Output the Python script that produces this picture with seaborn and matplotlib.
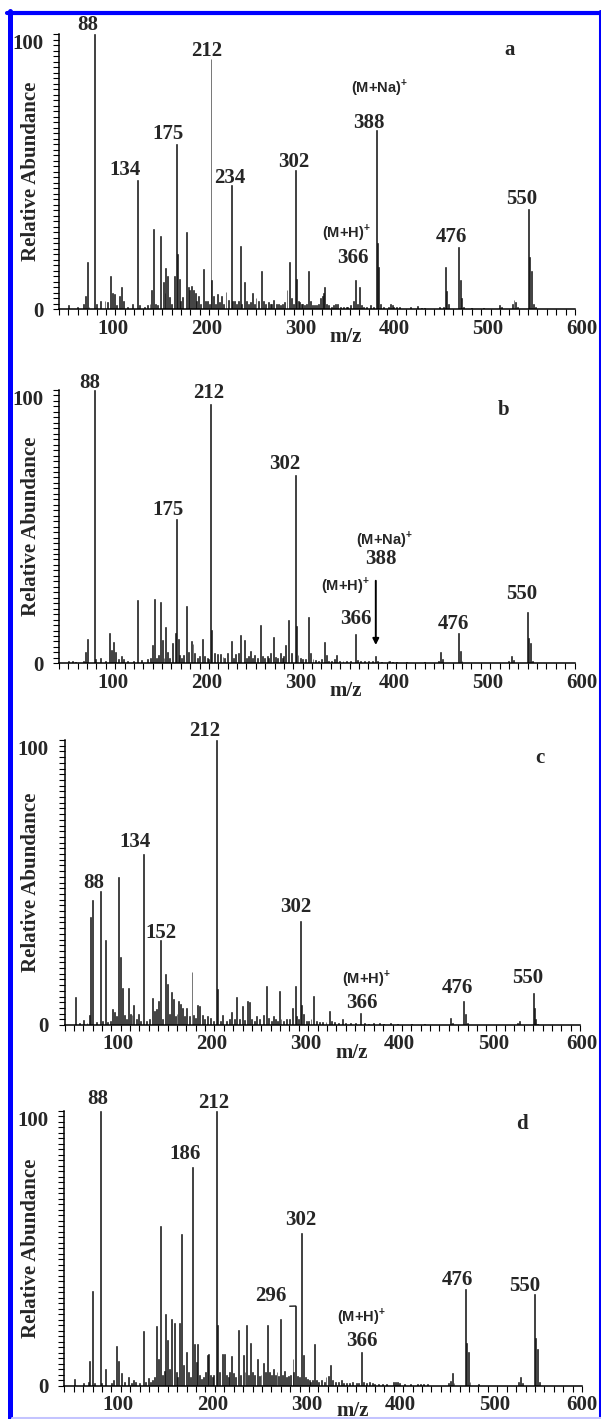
import numpy as np
import pandas as pd
import matplotlib.pyplot as plt
import matplotlib.transforms as mtransforms
from matplotlib.lines import Line2D
from matplotlib.ticker import MultipleLocator, FixedLocator
import seaborn as sns

# ---- spectra (m/z, relative abundance) ----
mz_a = [60, 70, 76, 78, 80, 82, 88, 90, 94, 99, 102, 105, 107, 109, 111, 114, 117, 119, 123, 128,
        134, 136, 141, 144, 147, 149, 151, 153, 155, 158, 161, 163, 164, 166, 168, 170, 173, 175, 176, 178,
        180, 182, 186, 188, 189, 191, 193, 195, 197, 199, 201, 204, 206, 208, 210, 212, 213, 215, 217, 219,
        221, 223, 225, 228, 231, 234, 235, 237, 239, 241, 243, 245, 248, 250, 252, 254, 256, 258, 260, 263,
        266, 268, 270, 273, 275, 277, 279, 282, 284, 286, 288, 290, 293, 296, 298, 300, 302, 303, 305, 306,
        308, 310, 312, 314, 316, 318, 320, 322, 324, 327, 329, 331, 332, 333, 335, 337, 340, 343, 345, 347,
        350, 353, 356, 358, 361, 364, 366, 368, 370, 372, 375, 378, 382, 385, 388, 389, 391, 393, 396, 401,
        403, 405, 407, 410, 413, 425, 432, 436, 440, 456, 460, 462, 463, 465, 476, 478, 479, 481, 490, 502,
        520, 522, 533, 535, 537, 539, 550, 552, 554, 556, 558]
ab_a = [1.5, 1.0, 2, 5, 17, 1, 100, 2, 3, 3, 2.5, 12, 6, 5.5, 1.5, 5, 8, 3, 1, 2,
        47, 1.5, 1, 1.5, 2, 7, 29, 2, 1.5, 26.5, 10, 6, 15, 12, 4.5, 2, 12, 60, 20, 11,
        3, 4.5, 28, 8, 7, 8.5, 7, 6, 3, 5, 2, 14.5, 3, 3, 2, 91, 10.5, 5, 2, 5.5,
        2.5, 5, 2, 6.3, 3.5, 45, 3, 3, 2, 3, 23, 2, 10, 3, 2, 2.5, 6, 2, 4, 3,
        14, 3, 2, 2.5, 2, 2, 3.5, 2, 2, 1.5, 2, 2.5, 7, 17, 4, 2, 50.5, 11, 3, 2.5,
        2, 2, 1.5, 2, 14, 3, 1.5, 1.5, 1.5, 2, 4, 5, 6, 8, 2, 1.5, 1, 1.5, 2, 2,
        1, 1, 1, 1, 1.5, 3, 10.5, 2, 8, 1.5, 1, 1, 1.5, 1, 65, 24, 15.5, 2, 1, 1,
        1.8, 1.5, 1, 0.8, 0.8, 0.8, 1.2, 0.6, 0.6, 0.8, 1, 15.5, 6.5, 2, 22.7, 10.5, 4, 1, 0.5, 0.5,
        1.5, 0.8, 2, 3.5, 2.5, 1, 36.5, 19, 14, 2, 0.8]

mz_b = [60, 64, 68, 76, 78, 80, 88, 89, 94, 100, 104, 106, 108, 110, 113, 117, 119, 123, 129, 134, 138,
        144, 148, 150, 152, 154, 156, 158, 160, 162, 164, 166, 168, 171, 174, 175, 177, 179, 181, 183, 186,
        188, 191, 193, 195, 198, 200, 203, 205, 208, 210, 212, 213, 216, 219, 222, 225, 227, 230, 234, 236,
        238, 242, 244, 248, 250, 252, 254, 256, 259, 262, 265, 267, 269, 272, 274, 276, 279, 281, 283, 286,
        288, 290, 292, 295, 298, 302, 303, 305, 308, 310, 313, 316, 318, 321, 324, 327, 330, 333, 335, 338,
        341, 344, 346, 349, 353, 357, 361, 366, 368, 372, 376, 380, 384, 388, 390, 394, 401, 403, 406, 410,
        421, 440, 455, 457, 459, 476, 478, 480, 530, 533, 535, 550, 551, 553, 555]
ab_b = [1, 0.8, 0.6, 1, 4.3, 8.9, 100, 1.5, 2, 1, 11, 5, 7.9, 4, 1.5, 2.7, 1.5, 1, 1, 23.2, 1.2,
        1.5, 2, 6.7, 23.5, 2, 3, 22.6, 8.5, 2, 13.4, 4.3, 2, 7.3, 11.2, 52.7, 9, 3, 2, 3, 21,
        4, 8, 7, 3.7, 2, 2.5, 8.9, 2.5, 2, 1.5, 95, 12.2, 3.9, 3.3, 3.3, 2.4, 2, 3.7, 8.3, 2,
        3.4, 3.7, 10.4, 8.5, 2, 2.5, 4.6, 2, 3, 2, 14, 2.7, 2, 2.5, 2, 3.7, 9.5, 2.4, 2, 3.7,
        2, 2.5, 6.7, 16, 3.7, 69, 13.7, 3, 1.8, 1.5, 1.5, 16.8, 3.7, 1.5, 1.2, 1, 1.5, 7.7, 3, 1,
        1, 1.5, 3, 1, 0.8, 0.8, 0.8, 10.7, 1.2, 0.8, 0.8, 0.8, 0.8, 2.7, 1, 0.6, 1, 1, 0.6, 0.5,
        0.5, 0.5, 1, 4.3, 1.5, 11.2, 4.6, 1, 1, 2.7, 1.2, 18.9, 9.4, 7.3, 1]

mz_c = [62, 66, 70, 74, 77, 78, 80, 84, 88, 91, 94, 96, 99, 101, 103, 105, 108, 110, 112, 114,
        116, 118, 120, 122, 124, 127, 129, 131, 134, 137, 141, 144, 146, 148, 150, 152, 155, 158, 160, 162,
        164, 166, 168, 170, 172, 174, 176, 178, 180, 183, 186, 188, 190, 192, 194, 197, 199, 203, 206, 209,
        212, 213, 216, 219, 223, 226, 228, 231, 234, 237, 240, 242, 245, 247, 250, 253, 255, 258, 262, 266,
        268, 271, 273, 275, 277, 279, 281, 284, 287, 290, 293, 296, 298, 300, 302, 303, 305, 308, 310, 313,
        316, 319, 322, 325, 329, 333, 335, 338, 342, 347, 350, 355, 360, 366, 370, 374, 380, 386, 390, 398,
        405, 420, 434, 462, 464, 476, 478, 480, 533, 535, 550, 551, 553, 555]
ab_c = [9.7, 0.8, 1.8, 0.6, 3.5, 38, 44, 1, 47, 1.5, 30, 1, 1.5, 5.5, 4.6, 3, 52, 24, 13, 3.5,
        2, 13, 4, 3.5, 7, 2, 4, 1.5, 60, 1.5, 2, 9.4, 5, 5.5, 8.5, 30, 2, 18, 14.4, 4,
        11.5, 9, 3, 4, 8.5, 7.5, 6, 3, 5.8, 3, 18.5, 3.5, 2.5, 7, 6.5, 3.5, 2, 3, 2.5, 1.5,
        100, 12.6, 1.5, 3.5, 1.5, 2, 4.7, 2, 9.7, 2, 6.7, 1.8, 8.5, 8, 2, 1.5, 3, 2, 3.5, 13.8,
        2.5, 1.5, 3, 2, 1.5, 12, 2, 1.5, 2, 2, 5.8, 13.8, 3, 2, 36.5, 7, 4, 1.5, 1.5, 2,
        10.2, 1.5, 1, 1, 1, 4.9, 1.5, 1, 0.8, 2, 0.8, 0.6, 0.6, 4.1, 0.6, 0.5, 0.6, 0.6, 0.5, 0.6,
        0.5, 0.4, 0.4, 2.3, 0.8, 8.4, 3.9, 0.8, 0.8, 1.4, 11.3, 5.8, 2, 0.5]

mz_d = [61, 70, 76, 77, 80, 82, 88, 90, 94, 100, 102, 105, 108, 111, 114, 118, 121, 124, 126, 130,
        134, 136, 139, 142, 144, 146, 148, 150, 152, 154, 156, 158, 160, 162, 164, 167, 169, 170, 172, 175,
        177, 180, 182, 184, 186, 188, 190, 192, 194, 196, 198, 200, 202, 203, 205, 207, 209, 212, 213, 215,
        218, 220, 222, 224, 226, 228, 230, 232, 235, 237, 240, 242, 244, 246, 248, 250, 252, 255, 257, 259,
        262, 264, 266, 268, 270, 272, 274, 276, 278, 280, 282, 284, 286, 288, 290, 293, 294, 296, 298, 300,
        302, 304, 306, 308, 310, 312, 314, 316, 318, 320, 323, 326, 328, 331, 333, 335, 338, 341, 344, 347,
        350, 353, 356, 360, 363, 366, 368, 371, 374, 377, 380, 384, 388, 392, 400, 402, 404, 406, 411, 418,
        425, 428, 432, 436, 458, 460, 462, 464, 476, 477, 479, 481, 490, 533, 535, 537, 550, 551, 553, 555]
ab_d = [2.3, 1, 1.5, 9, 34.5, 1, 100, 1, 5.9, 1, 2, 14.4, 9, 4.5, 1.5, 3, 1, 2, 1.2, 1,
        20, 1.5, 2.9, 1.5, 2, 3, 21.6, 9.6, 58, 4, 5.4, 26.2, 16.6, 6, 24.1, 22.9, 5, 3, 22.9, 55.3,
        7.5, 12.3, 5, 3, 79.7, 15, 8.7, 15.1, 4, 2.5, 3, 5, 11.1, 11.7, 4, 3, 4, 100, 22.2, 5,
        11.7, 11.5, 4, 3, 5, 10.8, 4.5, 3, 20.4, 4, 11.1, 5, 22.2, 4, 15.7, 5, 4, 9.9, 3.5, 4,
        8.1, 5, 22.2, 5, 4, 6, 4, 5, 3.5, 24.1, 4, 5.5, 3, 3.5, 4, 9.9, 5, 29, 3.5, 3,
        55.5, 11.1, 3, 2.5, 2, 1.5, 2, 15, 2, 1.5, 2, 1.5, 3, 3.5, 7.5, 2, 1.5, 1.5, 2, 1,
        1, 1, 1.5, 1, 1, 12.1, 1.5, 1, 1.5, 1, 0.8, 0.8, 0.6, 0.6, 1.5, 1.2, 1.5, 1, 0.6, 0.5,
        0.6, 0.8, 0.5, 0.5, 1, 1.8, 4.8, 1, 35.3, 15.7, 12.3, 1.5, 0.5, 1.5, 3.3, 1, 33.5, 17.2, 13.2, 1.5]

x_ticks = [100, 200, 300, 400, 500, 600]

# ---- annotation layout: (text, x, y, kind) ----
notes_a = [("88", 81, 103.4, "num"), ("212", 207, 94, "num"), ("175", 166, 63.5, "num"),
           ("134", 120.3, 50.5, "num"), ("234", 232, 47.8, "num"), ("302", 300, 53.4, "num"),
           ("388", 380.4, 67.5, "num"), ("(M+Na)", 391, 80.4, "ion"), ("550", 543.5, 40.1, "num"),
           ("476", 468.3, 26.4, "num"), ("366", 362.8, 18.7, "num"), ("(M+H)", 355.9, 27.8, "ion"),
           ("a", 530.5, 94.3, "num")]
notes_b = [("88", 82.9, 102.7, "num"), ("212", 209.5, 99, "num"), ("175", 166.7, 56.1, "num"),
           ("302", 291.3, 72.8, "num"), ("(M+Na)", 397.3, 45.4, "ion"), ("388", 393.2, 38, "num"),
           ("(M+H)", 355, 28.3, "ion"), ("366", 366.5, 16.1, "num"), ("476", 470.4, 14.4, "num"),
           ("550", 544, 25.2, "num"), ("b", 524.7, 92.7, "num")]
notes_c = [("212", 200, 103.2, "num"), ("134", 125, 64.1, "num"), ("88", 81.6, 49.9, "num"),
           ("152", 152.9, 32.4, "num"), ("302", 297.1, 41.3, "num"), ("(M+H)", 372.5, 16.4, "ion"),
           ("366", 366.8, 7.6, "num"), ("476", 469.2, 12.9, "num"), ("550", 544.6, 16.4, "num"),
           ("c", 556.9, 93.6, "num")]
notes_d = [("88", 85.5, 104.2, "num"), ("212", 209.2, 102.8, "num"), ("186", 177.8, 84.3, "num"),
           ("302", 301.1, 60.4, "num"), ("(M+H)", 366, 25.3, "ion"), ("366", 366, 16.2, "num"),
           ("476", 468.1, 38.3, "num"), ("550", 538.7, 36.3, "num"), ("d", 535.9, 95.2, "num")]

sns.set_style("ticks")
plt.rcParams["font.family"] = ["Liberation Serif", "DejaVu Serif"]
plt.rcParams["font.weight"] = "bold"
plt.rcParams["mathtext.fontset"] = "custom"
plt.rcParams["mathtext.rm"] = "Liberation Sans:bold"
plt.rcParams["mathtext.bf"] = "Liberation Sans:bold"

FS = 15
W, H = 601, 1419
fig = plt.figure(figsize=(W / 100, H / 100), dpi=100)

# axes boxes in pixels: left, right, top, bottom
boxes = [(59, 575, 34, 309.3), (59, 574.5, 390, 663.3), (64.5, 580, 740, 1025), (64.3, 582, 1111, 1385.7)]
spectra = [(mz_a, ab_a), (mz_b, ab_b), (mz_c, ab_c), (mz_d, ab_d)]
notes = [notes_a, notes_b, notes_c, notes_d]
mz_lab_dy = [-20, -20, -20, -18]
last_off = [5, 5, 1.5, 0]   # last x tick label sits against the right frame

axes = []
for (l, r, t, b), (mz, ab), nt, dy, lo in zip(boxes, spectra, notes, mz_lab_dy, last_off):
    ax = fig.add_axes([l / W, 1 - b / H, (r - l) / W, (b - t) / H])
    df = pd.DataFrame({"mz": mz, "ab": ab})
    sns.histplot(data=df, x="mz", weights="ab", binwidth=1, binrange=(49.5, 600.5),
                 color="#111111", alpha=1, linewidth=0.4, edgecolor="#111111", ax=ax)
    ax.set_xlim(50, 600)
    ax.set_ylim(0, 100)
    sns.despine(ax=ax)
    for s in ("left", "bottom"):
        ax.spines[s].set_linewidth(1.1)
        ax.spines[s].set_color("black")

    ax.xaxis.set_major_locator(FixedLocator(x_ticks))
    ax.xaxis.set_minor_locator(MultipleLocator(10))
    ax.set_yticks([0, 100])
    ax.yaxis.set_minor_locator(MultipleLocator(2))
    ax.tick_params(which="both", direction="out", length=4.3, width=0.8, color="black")
    ax.tick_params(axis="x", labelsize=FS, pad=2.5)
    ax.tick_params(axis="y", labelsize=FS, pad=7)
    xlabels = ax.get_xticklabels()
    for i, lbl in enumerate(xlabels):
        shift = lo if i == len(xlabels) - 1 else 5
        off = mtransforms.ScaledTranslation(shift / 72, 0, fig.dpi_scale_trans)
        lbl.set_transform(lbl.get_transform() + off)
        lbl.set_fontweight("bold")
    for lbl in ax.get_yticklabels():
        lbl.set_fontweight("bold")
    ax.yaxis.get_major_ticks()[1].label1.set_verticalalignment("top")

    ax.set_xlabel("")
    ax.set_ylabel("Relative Abundance", fontsize=FS, fontweight="bold")
    ax.yaxis.set_label_coords((41 - l) / (r - l), 0.5)
    ax.annotate("m/z", xy=(356, 0), xycoords=("data", "axes fraction"), xytext=(0, dy),
                textcoords="offset points", ha="center", va="center", fontsize=FS, fontweight="bold")

    for text, x, y, kind in nt:
        if kind == "ion":
            ax.text(x, y, text + r"$^{+}$", ha="center", va="center", fontsize=10.5,
                    family="Liberation Sans", fontweight="bold", clip_on=False)
        else:
            ax.text(x, y, text, ha="center", va="center", fontsize=FS, fontweight="bold", clip_on=False)
    axes.append(ax)

# arrow to the (M+Na)+ position in panel b
axes[1].annotate("", xy=(388, 6.7), xytext=(388, 30.2),
                 arrowprops=dict(arrowstyle="-|>", lw=1.4, color="black", mutation_scale=9,
                                 shrinkA=0, shrinkB=0))
# 296 label with leader in panel d
axes[3].annotate("296", xy=(296, 29), xytext=(269.3, 32.5), ha="center", va="center",
                 fontsize=FS, fontweight="bold",
                 arrowprops=dict(arrowstyle="-", lw=0.9, color="black", shrinkA=0, shrinkB=0,
                                 relpos=(0.85, 0.0)))

# blue frame
fig.add_artist(Line2D([9.5 / W, 9.5 / W], [0, 1 - 11 / H], transform=fig.transFigure,
                      color="#0000ff", lw=3.6))
fig.add_artist(Line2D([7 / W, 1], [1 - 13 / H, 1 - 13 / H], transform=fig.transFigure,
                      color="#0000ff", lw=3.0))
fig.add_artist(Line2D([599.5 / W, 599.5 / W], [2 / H, 1 - 11 / H], transform=fig.transFigure,
                      color="#0000ff", lw=2.2))
fig.add_artist(Line2D([12 / W, 1], [1.5 / H, 1.5 / H], transform=fig.transFigure,
                      color="#c4c4ff", lw=2.2))

fig.savefig("out.png", dpi=100)
